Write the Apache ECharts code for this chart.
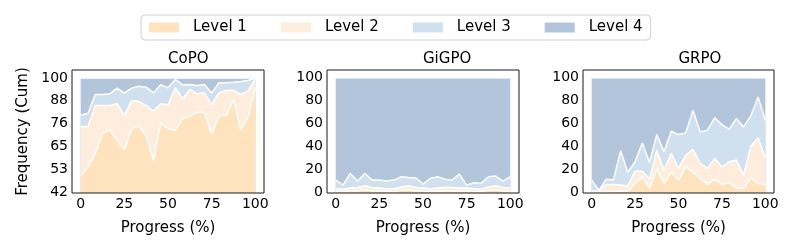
<!DOCTYPE html>
<html>
<head>
<meta charset="utf-8">
<script src="https://cdn.jsdelivr.net/npm/echarts@6/dist/echarts.min.js"></script>
<style>html,body{margin:0;padding:0;background:#fff;}#c{width:797px;height:250px;}</style>
</head>
<body>
<div id="c"></div>
<script>
// ---- data ----
const progress = [0,4.17,8.33,12.5,16.67,20.83,25,29.17,33.33,37.5,41.67,45.83,50,54.17,58.33,62.5,66.67,70.83,75,79.17,83.33,87.5,91.67,95.83,100];
const levels = ['Level 1','Level 2','Level 3','Level 4'];
const panels = ['CoPO','GiGPO','GRPO'];

const copoL1 = [50.3,54.8,61.6,72.0,73.7,68.3,63.6,74.5,75.4,70.8,58.2,77.2,74.2,73.4,79.3,80.6,82.6,82.6,71.7,80.6,81.0,89.0,73.7,80.1,95.3];
const copoL2 = [25.1,20.6,24.4,14.0,12.3,18.6,17.4,14.0,12.6,15.2,24.9,9.7,12.2,21.6,10.1,13.5,9.3,9.8,14.7,11.8,12.6,4.6,17.9,13.2,4.2];
const copoL3 = [5.6,6.7,5.6,5.6,5.9,7.9,11.3,6.3,7.8,9.3,9.3,9.6,8.6,4.2,7.1,2.5,4.2,4.2,5.9,5.1,3.9,4.2,6.6,5.4,0.5];
const copoL4 = [19.0,17.9,8.4,8.4,8.1,5.2,7.7,5.2,4.2,4.7,7.6,3.5,5.0,0.8,3.5,3.4,3.9,3.4,7.7,2.5,2.5,2.2,1.8,1.3,0];

const gigpoL1 = [1,0.5,1,1,2,1,1,0.5,0.5,1.5,2,1,1,0.5,1,1,1,1,1,0.5,0.5,1.5,2,1,0.5];
const gigpoL2 = [2,2,2.5,3,3.5,3,2.5,2.5,2.5,3,3.5,3,2.5,2.5,2.5,3,3,2.5,2.5,2.5,2,3,3.5,3,3];
const gigpoL3 = [7.5,3.6,12.8,5.6,10.8,6.5,7.0,6.6,7.5,8.9,7.3,8.5,3.5,8.9,9.9,7.3,6.5,12.2,2.6,5.1,5.1,8.9,8.5,5.6,9.9];
const gigpoL4 = [89.5,93.9,83.7,90.4,83.7,89.5,89.5,90.4,89.5,86.6,87.2,87.5,93.0,88.1,86.6,88.7,89.5,84.3,93.9,91.9,92.4,86.6,86.0,90.4,86.6];

const grpoL1 = [0,0.3,0.5,0.5,1.0,0.5,7.6,13.4,3.2,20.7,7.6,17.7,10.5,22.1,17.7,11.9,6.7,11.3,6.7,8.4,3.2,3.2,12.5,7.6,6.7];
const grpoL2 = [1,0.7,6.2,6.2,5.1,4.7,10.7,4.9,8.1,15.9,11.6,16.0,10.2,10.2,19.8,13.1,14.0,18.1,15.4,18.1,24.7,11.6,27.9,39.8,23.3];
const grpoL3 = [9.5,0.5,4.6,3.8,30.0,12.0,8.2,24.7,14.6,13.7,16.0,19.5,29.6,19.5,34.1,27.6,33.4,35.5,36.9,28.5,36.4,42.2,26.2,35.8,32.8];
const grpoL4 = [89.5,98.5,88.7,89.5,63.9,82.8,73.5,57.0,74.1,49.7,64.8,46.8,49.7,48.2,28.4,47.4,45.9,35.1,41.0,45.0,35.7,43.0,33.4,16.8,37.2];

const xTicks = [0,25,50,75,100];
const copoYTicks = [42,53.6,65.2,76.8,88.4,100];
const copoYLabels = ['42','53','65','76','88','100'];
const pctYTicks = [0,20,40,60,80,100];

// ---- layout / style ----
const colors = ['#FFE2BE','#FEEDDC','#D0E0EE','#B3C5DA'];
const FONT = 'DejaVu Sans';
const panelData = [[copoL1,copoL2,copoL3,copoL4],[gigpoL1,gigpoL2,gigpoL3,gigpoL4],[grpoL1,grpoL2,grpoL3,grpoL4]];
const gridLeft = [72, 327, 583];
const gridWidth = [192, 192, 191];
const yRange = [[41.6,104],[-0.8,106.8],[-0.8,106.8]];

const grids = [], xAxes = [], yAxes = [], series = [], graphics = [];
panels.forEach((p, k) => {
  grids.push({left: gridLeft[k], top: 70, width: gridWidth[k], height: 123, show: true,
    borderColor: '#1a1a1a', borderWidth: 1, backgroundColor: 'transparent', z: 10});
  xAxes.push({type: 'value', gridIndex: k, min: -5, max: 105,
    axisLine: {show: false}, axisTick: {show: false}, splitLine: {show: false},
    axisLabel: {customValues: xTicks, fontSize: 14, color: '#000', fontFamily: FONT, margin: 4},
    name: 'Progress (%)', nameLocation: 'middle', nameGap: 28,
    nameTextStyle: {fontSize: 15, color: '#000', fontFamily: FONT}});
  const yt = k === 0 ? copoYTicks : pctYTicks;
  yAxes.push({type: 'value', gridIndex: k, min: yRange[k][0], max: yRange[k][1],
    axisLine: {show: false}, axisTick: {show: false}, splitLine: {show: false},
    axisLabel: {customValues: yt, fontSize: 14, color: '#000', fontFamily: FONT, margin: 4,
      formatter: (v) => k === 0 ? copoYLabels[copoYTicks.indexOf(v)] : String(v)},
    name: k === 0 ? 'Frequency (Cum)' : '', nameLocation: 'middle', nameGap: 41, nameRotate: 90,
    nameTextStyle: {fontSize: 15, color: '#000', fontFamily: FONT}});
  graphics.push({type: 'text', left: gridLeft[k] + gridWidth[k] / 2, top: 52,
    style: {text: p, fontSize: 15, fontFamily: FONT, fill: '#000', textAlign: 'center'}});
  // cumulative totals per level (stack computed from the level arrays)
  const cum = panelData[k].map((arr, j) => progress.map((_, i) => {
    let s = 0; for (let t = 0; t <= j; t++) s += panelData[k][t][i]; return s;
  }));
  // draw top level first so lower levels sit over it
  for (let j = levels.length - 1; j >= 0; j--) {
    series.push({type: 'line', name: levels[j], xAxisIndex: k, yAxisIndex: k,
      data: progress.map((x, i) => [x, +cum[j][i].toFixed(2)]),
      showSymbol: false, symbol: 'none', color: colors[j],
      lineStyle: {color: '#fff', width: 1.5},
      areaStyle: {color: colors[j], opacity: 1, origin: 'start'},
      itemStyle: {color: colors[j]}, emphasis: {disabled: true}, z: 2});
  }
});

const chart = echarts.init(document.getElementById('c'), null, {renderer: 'canvas'});
chart.setOption({
  animation: false,
  backgroundColor: '#fff',
  textStyle: {fontFamily: FONT},
  legend: {left: 141, top: 15, orient: 'horizontal', icon: 'rect', itemWidth: 30, itemHeight: 10, itemGap: 34,
    borderColor: '#d0d0d0', borderWidth: 1, borderRadius: 4, padding: [5, 8, 5, 8],
    textStyle: {fontSize: 15, color: '#000', fontFamily: FONT, padding: [0, 0, 0, 9]},
    data: levels.map((lv, j) => ({name: lv, itemStyle: {color: colors[j], borderWidth: 0}}))},
  grid: grids, xAxis: xAxes, yAxis: yAxes, series: series,
  graphic: graphics
});
</script>
</body>
</html>
